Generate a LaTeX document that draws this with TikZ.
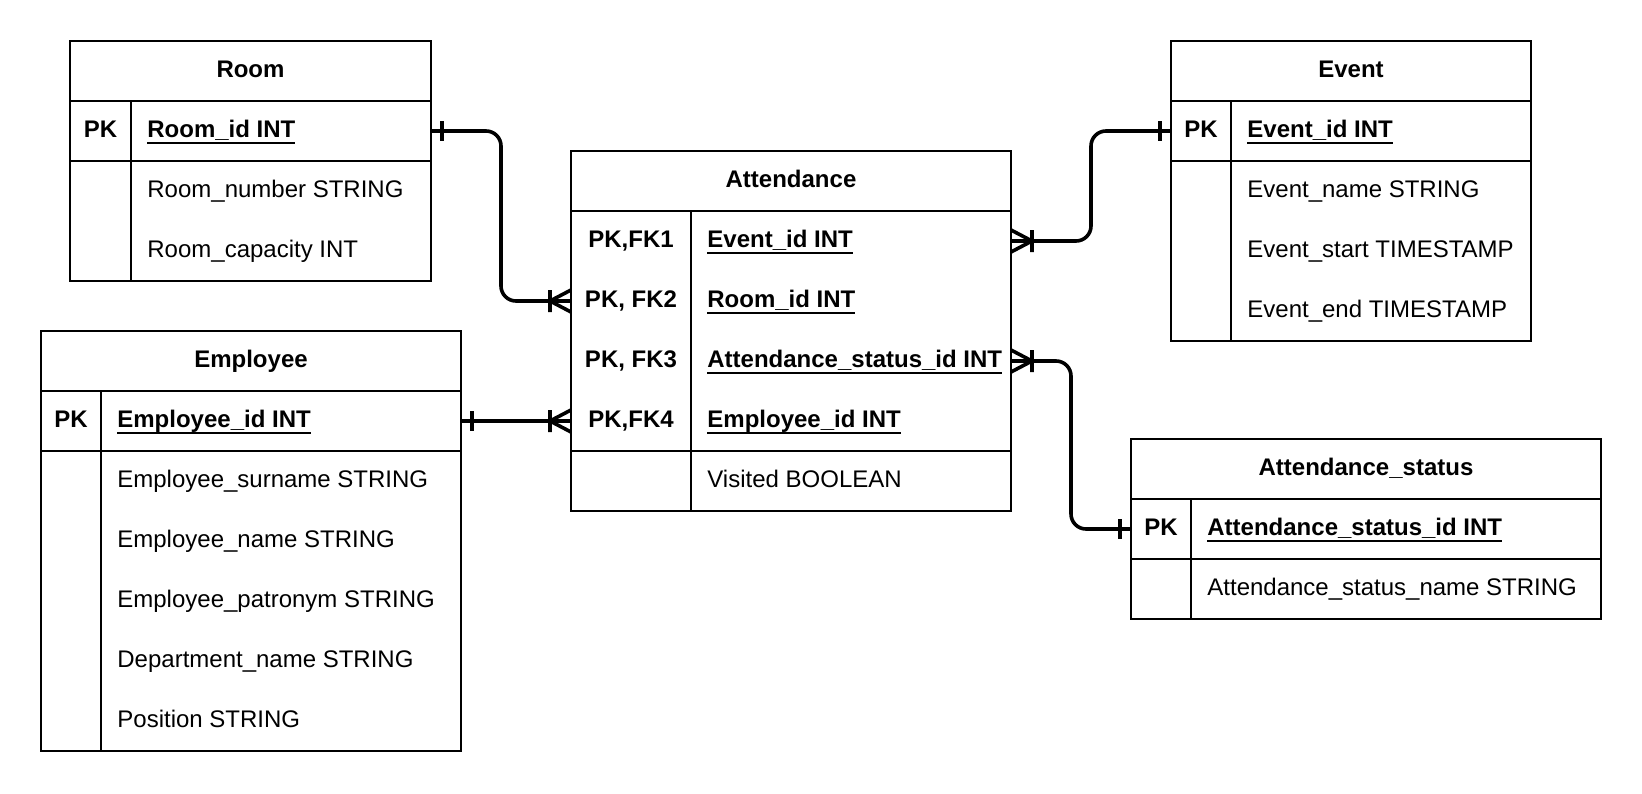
\documentclass[tikz,border=0pt]{standalone}
\usepackage{fontspec}
\setmainfont{Liberation Sans}
\usetikzlibrary{calc,positioning}

\newcommand{\erfont}{\fontsize{12bp}{14bp}\selectfont}
\newcommand{\keyfield}[1]{\setbox0=\hbox{#1}\rlap{\rule[-3bp]{\wd0}{1bp}}\copy0}

\begin{document}
\begin{tikzpicture}[x=0.5bp, y=-0.5bp,
  tbl/.style={line width=1bp,draw=black},
  link/.style={line width=1.8bp,draw=black},
  txt/.style={inner sep=0pt,text height=9bp,text depth=2.5bp,font=\erfont},
  title/.style={txt,font=\erfont\bfseries},
  keycol/.style={title},
  field/.style={txt,anchor=west},
  keyfld/.style={field,font=\erfont\bfseries},
  row/.style={inner sep=0pt,outer sep=0pt,minimum height=30bp},
  one/.pic={\draw[link] (11,-10) -- (11,10);},
  many/.pic={\draw[link] (21,-11) -- (21,11) (0,-11) -- (21,0) -- (0,11);}]

 \fill[white] (0,0) rectangle (1642,794);
 \useasboundingbox (0,0) rectangle (1642,794);

 % Room
 \draw[tbl] (70,41) rectangle (431,281);
 \draw[tbl] (70,101) -- (431,101) (70,161) -- (431,161) (131,101) -- (131,281);
 \node[title] (room) at (250.5,71) {Room};
 \node[keycol] (roomkey) at (100.5,131) {PK};
 \node[keyfld] (roomid) at (147,131) {\keyfield{Room\_id INT}};
 \node[field] (roomnum) at (147,191) {Room\_number STRING};
 \node[field] (roomcap) at (147,251) {Room\_capacity INT};
 \node[row, minimum width=180.5bp] (roompk) at (250.5,131) {};

 % Employee
 \draw[tbl] (41,331) rectangle (461,751);
 \draw[tbl] (41,391) -- (461,391) (41,451) -- (461,451) (101,391) -- (101,751);
 \node[title] (employee) at (251,361) {Employee};
 \node[keycol] (empkey) at (71,421) {PK};
 \node[keyfld] (empid) at (117,421) {\keyfield{Employee\_id INT}};
 \foreach \n/\f/\y in {surname/Employee\_surname STRING/481, name/Employee\_name STRING/541,
   patronym/Employee\_patronym STRING/601, dept/Department\_name STRING/661, pos/Position STRING/721}
   \node[field] (emp\n) at (117,\y) {\f};
 \node[row, minimum width=210bp] (emppk) at (251,421) {};

 % Attendance
 \draw[tbl] (571,151) rectangle (1011,511);
 \draw[tbl] (571,211) -- (1011,211) (571,451) -- (1011,451) (691,211) -- (691,511);
 \node[title] (attendance) at (791,181) {Attendance};
 \foreach \n/\k/\f/\y in {fk1/{PK,FK1}/Event\_id INT/241, fk2/{PK, FK2}/Room\_id INT/301,
   fk3/{PK, FK3}/Attendance\_status\_id INT/361, fk4/{PK,FK4}/Employee\_id INT/421}{
   \node[keycol] (attkey\n) at (631,\y) {\k};
   \node[keyfld] (attfld\n) at (707,\y) {\keyfield{\f}};
   \node[row, minimum width=220bp] (att\n) at (791,\y) {};
 }
 \node[field] (visited) at (707,481) {Visited BOOLEAN};

 % Event
 \draw[tbl] (1171,41) rectangle (1531,341);
 \draw[tbl] (1171,101) -- (1531,101) (1171,161) -- (1531,161) (1231,101) -- (1231,341);
 \node[title] (event) at (1351,71) {Event};
 \node[keycol] (eventkey) at (1201,131) {PK};
 \node[keyfld] (eventid) at (1247,131) {\keyfield{Event\_id INT}};
 \node[field] (eventname) at (1247,191) {Event\_name STRING};
 \node[field] (eventstart) at (1247,251) {Event\_start TIMESTAMP};
 \node[field] (eventend) at (1247,311) {Event\_end TIMESTAMP};
 \node[row, minimum width=180bp] (eventpk) at (1351,131) {};

 % Attendance_status
 \draw[tbl] (1131,439) rectangle (1601,619);
 \draw[tbl] (1131,499) -- (1601,499) (1131,559) -- (1601,559) (1191,499) -- (1191,619);
 \node[title] (status) at (1366,469) {Attendance\_status};
 \node[keycol] (statuskey) at (1161,529) {PK};
 \node[keyfld] (statusid) at (1207,529) {\keyfield{Attendance\_status\_id INT}};
 \node[field] (statusname) at (1207,589) {Attendance\_status\_name STRING};
 \node[row, minimum width=235bp] (statuspk) at (1366,529) {};

 % relations
 \draw[link, rounded corners=7.5bp] (roompk.east) -| ($(roompk.east)!0.5!(attfk2.west)$) |- (attfk2.west);
 \draw[link] (emppk.east) -- (attfk4.west);
 \draw[link, rounded corners=7.5bp] (attfk1.east) -| ($(attfk1.east)!0.5!(eventpk.west)$) |- (eventpk.west);
 \draw[link, rounded corners=7.5bp] (attfk3.east) -| ($(attfk3.east)!0.5!(statuspk.west)$) |- (statuspk.west);

 \pic at (roompk.east) {one};
 \pic[xscale=-1] at (attfk2.west) {many};
 \pic at (emppk.east) {one};
 \pic[xscale=-1] at (attfk4.west) {many};
 \pic at (attfk1.east) {many};
 \pic[xscale=-1] at (eventpk.west) {one};
 \pic at (attfk3.east) {many};
 \pic[xscale=-1] at (statuspk.west) {one};
\end{tikzpicture}
\end{document}
